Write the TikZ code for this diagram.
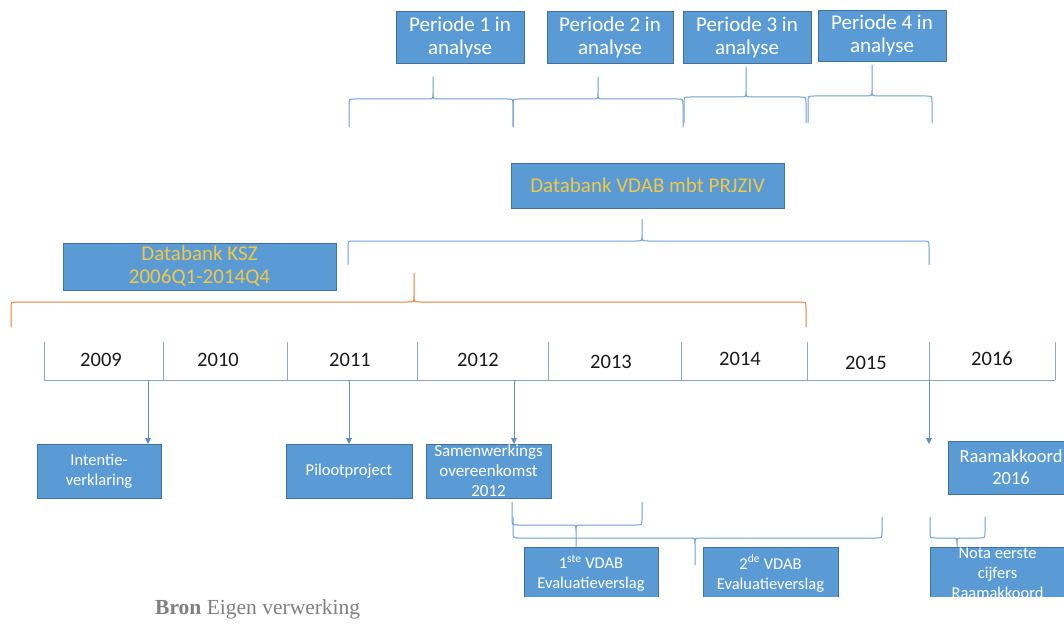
\documentclass[tikz,border=0pt]{standalone}
\usepackage{fontspec}
\setmainfont{Carlito}
\newfontfamily\bronfont{Liberation Serif}
\usetikzlibrary{arrows.meta}
\definecolor{boxblue}{HTML}{5B9BD5}
\definecolor{boxedge}{HTML}{41719C}
\definecolor{brblue}{HTML}{6B9FD4}
\definecolor{tlcol}{HTML}{8BA8C4}
\definecolor{arcol}{HTML}{5B8FC8}
\definecolor{brorange}{HTML}{ED7D31}
\definecolor{goldtxt}{HTML}{F2C744}
\definecolor{grytxt}{HTML}{7F7F7F}
% brace: 1 xL, 2 xR, 3 xTip, 4 yEnd, 5 yBase, 6 yTip, 7 radius, 8 sign, 9 style
\newcommand\brc[9]{%
  \draw[#9] (#1,#4) -- (#1,{#5+(#8)*#7}) .. controls (#1,#5) .. ({#1+#7},#5)
    -- ({#3-#7},#5) .. controls (#3,#5) .. (#3,{#5-(#8)*#7}) -- (#3,#6)
    (#3,{#5-(#8)*#7}) .. controls (#3,#5) .. ({#3+#7},#5)
    -- ({#2-#7},#5) .. controls (#2,#5) .. (#2,{#5+(#8)*#7}) -- (#2,#4);}
\begin{document}
\begin{tikzpicture}[x=1pt,y=-1pt,
  bluebox/.style={draw=boxedge, line width=0.8pt, fill=boxblue, text=white, align=center, inner sep=0pt, outer sep=0pt},
  toplbl/.style={bluebox, font=\fontsize{21}{23}\selectfont, minimum width=128pt, minimum height=52pt},
  dbbox/.style={bluebox, text=goldtxt, font=\fontsize{21}{23}\selectfont, minimum width=273pt},
  evbox/.style={bluebox, font=\fontsize{16.5}{20}\selectfont, minimum height=54pt},
  txtonly/.style={text=white, align=center, inner sep=0pt},
  yearlbl/.style={font=\fontsize{20.5}{24}\selectfont, text=black!90, anchor=base, inner sep=0pt},
  tl/.style={draw=tlcol, line width=1pt},
  arr/.style={draw=arcol, line width=1pt, -{Triangle[length=6pt,width=6pt]}},
  blubrace/.style={draw=brblue, line width=1pt},
  orbrace/.style={draw=brorange, line width=1pt}]
\useasboundingbox (0,0) rectangle (1064,623);

% top period boxes
\node[toplbl] (p1) at (460,37) {Periode 1 in\\analyse};
\node[toplbl, minimum width=126pt] (p2) at (610,37) {Periode 2 in\\analyse};
\node[toplbl] (p3) at (747,37) {Periode 3 in\\analyse};
\node[toplbl, minimum height=51pt] (p4) at (882,35.5) {Periode 4 in\\analyse};

% top braces
\brc{349}{513}{433}{127}{99}{77}{6}{1}{blubrace}
\brc{513}{683}{598}{127}{99}{77}{6}{1}{blubrace}
\brc{684}{806}{746}{123}{97}{67}{6}{1}{blubrace}
\brc{808}{932}{872}{123}{96}{65}{6}{1}{blubrace}

% databank boxes
\node[dbbox, minimum height=45pt] (vdab) at (647.5,185.5) {Databank VDAB mbt PRJZIV};
\node[dbbox, minimum height=47pt] (ksz) at (199.5,266.5) {Databank KSZ\\2006Q1-2014Q4};

\brc{348}{929}{642}{265}{241}{219}{6}{1}{blubrace}
\brc{11}{806}{414}{327}{302}{273}{6}{1}{orbrace}

% timeline
\draw[tl] (44,380) -- (1055,380);
\foreach \x in {44,163,287,417,548,681,807,929,1055}
  \draw[tl] (\x,342) -- (\x,380);
\node[yearlbl] (y2009) at (101,366) {2009};
\node[yearlbl] (y2010) at (218,366) {2010};
\node[yearlbl] (y2011) at (350,366) {2011};
\node[yearlbl] (y2012) at (478,366) {2012};
\node[yearlbl] (y2013) at (611,368) {2013};
\node[yearlbl] (y2014) at (740,365) {2014};
\node[yearlbl] (y2015) at (866,369) {2015};
\node[yearlbl] (y2016) at (992,365) {2016};

% event boxes
\node[evbox, minimum width=124pt] (intentie) at (99,471) {Intentie-\\verklaring};
\node[evbox, minimum width=126pt] (piloot) at (349,471) {Pilootproject};
\node[evbox, minimum width=125pt] (samen) at (488.5,471) {};
\node[txtonly, font=\fontsize{17}{20}\selectfont] (samentxt) at (samen.center) {Samenwerkings\\overeenkomst\\2012};
\node[bluebox, minimum width=126pt, minimum height=53pt, font=\fontsize{18.5}{22}\selectfont] (raam) at (1011,467.5) {Raamakkoord\\2016};

% arrows from timeline
\coordinate (a1) at (148,380);
\coordinate (a2) at (349,380);
\coordinate (a3) at (514,380);
\coordinate (a4) at (929,380);
\coordinate (a4end) at (929,444);
\draw[arr] (a1) -- (a1 |- intentie.north);
\draw[arr] (a2) -- (a2 |- piloot.north);
\draw[arr] (a3) -- (a3 |- samen.north);
\draw[arr] (a4) -- (a4end);

% bottom braces
\brc{513}{882}{695}{517}{538}{565}{6}{-1}{blubrace}
\brc{512}{642}{576}{502}{525}{547}{6}{-1}{blubrace}
\brc{930}{985}{957}{517}{538}{547}{6}{-1}{blubrace}

% clipped report boxes
\begin{scope}
\clip (0,0) rectangle (1064,596);
\node[evbox, minimum width=134pt, minimum height=53pt] (eval1) at (591,573.5) {1\textsuperscript{ste} VDAB\\Evaluatieverslag};
\node[evbox, minimum width=135pt, minimum height=53pt] (eval2) at (770.5,573.5) {2\textsuperscript{de} VDAB\\Evaluatieverslag};
\node[evbox, minimum width=135pt, minimum height=53pt] (nota) at (997.5,573.5) {};
\node[txtonly, font=\fontsize{16.5}{20}\selectfont] (notatxt) at (nota.center) {Nota eerste\\cijfers\\Raamakkoord};
\end{scope}

% source line
\node[anchor=base west, inner sep=0pt, text=grytxt, font=\bronfont\fontsize{21.5}{25}\selectfont] (bron) at (155,614) {\textbf{Bron} Eigen verwerking};
\end{tikzpicture}
\end{document}
